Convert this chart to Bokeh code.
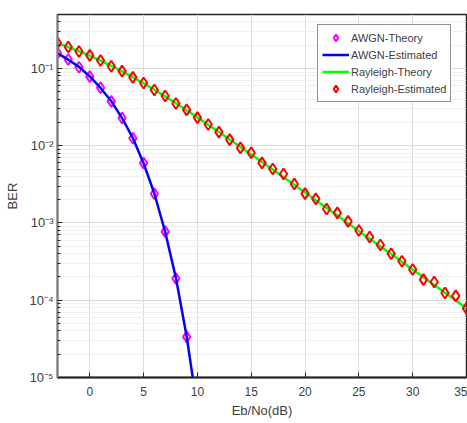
from bokeh.plotting import figure
from bokeh.models import (Range1d, FixedTicker, Legend, LegendItem, CustomJSTickFormatter)
from bokeh.embed import file_html
from bokeh.resources import INLINE

# ---------------- data ----------------
ebno_awgn = [-3, -2, -1, 0, 1, 2, 3, 4, 5, 6, 7, 8, 9, 10]
awgn_theory = [0.158, 0.131, 0.104, 0.0786, 0.0563, 0.0375, 0.0229, 0.0125,
               0.00595, 0.00239, 0.000773, 0.000191, 0.0000336, 0.00000387]
awgn_estimated = [0.157, 0.130, 0.105, 0.0789, 0.0560, 0.0377, 0.0228, 0.0126,
                  0.00590, 0.00241, 0.000770, 0.000195, 0.0000340, 0.0000039]

ebno_ray = list(range(-3, 36))
rayleigh_theory = [0.2111, 0.1890, 0.1673, 0.1464, 0.1267, 0.1085, 0.0919, 0.0771,
                   0.0642, 0.0530, 0.0435, 0.0355, 0.0288, 0.0233,
                   0.01874, 0.01506, 0.01207, 0.00966, 0.00772, 0.00616, 0.00491,
                   0.00392, 0.00312, 0.00248,
                   0.00197, 0.00157, 0.00125, 0.000992, 0.000788, 0.000626, 0.000498,
                   0.000396, 0.000314, 0.000250,
                   0.0001985, 0.0001577, 0.0001253, 0.0000995, 0.0000790]
rayleigh_estimated = [0.214, 0.190, 0.166, 0.148, 0.127, 0.107, 0.0925, 0.0768,
                      0.0648, 0.0526, 0.0440, 0.0352, 0.0291, 0.0231,
                      0.0188, 0.0150, 0.0120, 0.0094, 0.0081, 0.0060, 0.0050,
                      0.0043, 0.0032, 0.00240,
                      0.00205, 0.00152, 0.00135, 0.00105, 0.00080, 0.00066, 0.00052,
                      0.00040, 0.00032, 0.000250,
                      0.000185, 0.000172, 0.000124, 0.000114, 0.0000785]

x_ticks = [0, 5, 10, 15, 20, 25, 30, 35]
y_ticks = [1e-5, 1e-4, 1e-3, 1e-2, 1e-1]
y_tick_labels = ["10\u207b\u2075", "10\u207b\u2074", "10\u207b\u00b3", "10\u207b\u00b2", "10\u207b\u00b9"]
y_minor = [m * 10.0 ** k for k in range(-5, 0) for m in range(2, 10)]

FONT = "Liberation Sans"
TXT = "#404040"

p = figure(width=467, height=423, output_backend="svg", toolbar_location=None,
           y_axis_type="log", x_range=Range1d(-3, 35), y_range=Range1d(1e-5, 0.5),
           min_border_left=57, min_border_right=1, min_border_top=14, min_border_bottom=46)
p.background_fill_color = "white"
p.border_fill_color = "white"
p.outline_line_color = "#262626"
p.outline_line_width = 1.5

yfmt = CustomJSTickFormatter(args=dict(vals=y_ticks, labs=y_tick_labels), code="""
let best = 0, bd = Infinity;
for (let i = 0; i < vals.length; i++) {
  const d = Math.abs(Math.log10(vals[i]) - Math.log10(tick));
  if (d < bd) { bd = d; best = i; }
}
return labs[best];
""")

xa = p.xaxis[0]
xa.ticker = FixedTicker(ticks=x_ticks)
xa.axis_label = "Eb/No(dB)"
ya = p.yaxis[0]
ya.ticker = FixedTicker(ticks=y_ticks, minor_ticks=y_minor)
ya.formatter = yfmt
ya.axis_label = "BER"

for ax in (xa, ya):
    ax.major_tick_in = 5
    ax.major_tick_out = 0
    ax.minor_tick_in = 3
    ax.minor_tick_out = 0
    ax.major_label_text_font = FONT
    ax.major_label_text_font_size = "12px"
    ax.major_label_text_color = TXT
    ax.axis_label_text_font = FONT
    ax.axis_label_text_font_size = "13px"
    ax.axis_label_text_font_style = "normal"
    ax.axis_label_text_color = TXT
    ax.major_tick_line_color = "#262626"
    ax.minor_tick_line_color = "#262626"
xa.minor_tick_line_color = None
xa.major_label_standoff = 9
xa.axis_label_standoff = 4
xa.axis_line_color = "#262626"
xa.axis_line_width = 2
ya.major_label_text_font_size = "13px"
ya.major_label_standoff = 4
ya.axis_label_standoff = 6
ya.axis_line_color = "#808080"
ya.axis_line_width = 2

p.xgrid.ticker = FixedTicker(ticks=x_ticks)
p.ygrid.ticker = FixedTicker(ticks=y_ticks, minor_ticks=y_minor)
p.xgrid.grid_line_color = "#dcdcdc"
p.ygrid.grid_line_color = "#dcdcdc"
p.ygrid.minor_grid_line_color = "#f0f0f0"

r_awgn_th = p.scatter(ebno_awgn, awgn_theory, marker="diamond", size=11,
                      line_color="#ff00ff", line_width=2, fill_color=None)
r_awgn_est = p.line(ebno_awgn, awgn_estimated, line_color="#0000ff", line_width=2.5)
r_ray_th = p.line(ebno_ray, rayleigh_theory, line_color="#00ff00", line_width=2.5)
r_ray_est = p.scatter(ebno_ray, rayleigh_estimated, marker="diamond", size=11,
                      line_color="#ff0000", line_width=2, fill_color=None)

legend = Legend(items=[
    LegendItem(label="AWGN-Theory", renderers=[r_awgn_th]),
    LegendItem(label="AWGN-Estimated", renderers=[r_awgn_est]),
    LegendItem(label="Rayleigh-Theory", renderers=[r_ray_th]),
    LegendItem(label="Rayleigh-Estimated", renderers=[r_ray_est]),
], location=(260, 275))
legend.label_text_font = FONT
legend.label_text_font_size = "11px"
legend.label_text_color = TXT
legend.glyph_width = 27
legend.glyph_height = 17
legend.label_height = 17
legend.label_standoff = 2
legend.spacing = 0
legend.padding = 4
legend.margin = 0
legend.border_line_color = "#262626"
legend.border_line_width = 1
legend.background_fill_color = "white"
legend.background_fill_alpha = 1
p.add_layout(legend)

open("out.html", "w").write(file_html(p, INLINE))
